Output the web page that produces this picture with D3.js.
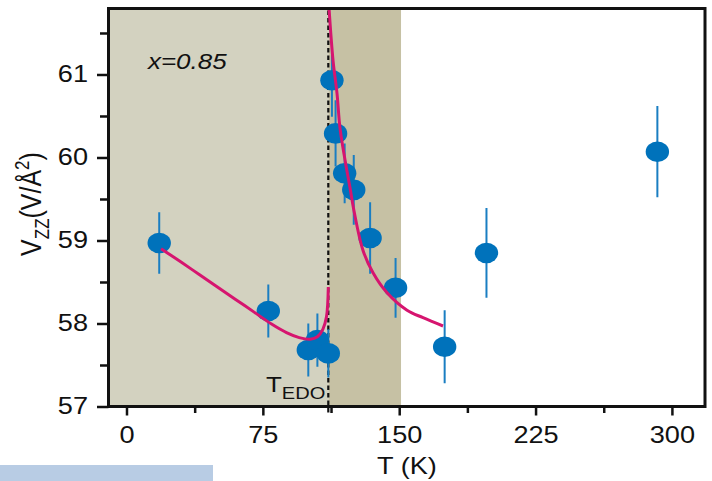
<!DOCTYPE html>
<html>
<head>
<meta charset="utf-8">
<script src="https://cdn.jsdelivr.net/npm/d3@7"></script>
<style>
  body { margin: 0; background: #fff; }
  text { font-family: "Liberation Sans", Arial, sans-serif; fill: #111; }
</style>
</head>
<body>
<svg width="712" height="481"></svg>
<script>
// measured points: temperature (K), Vzz (V/A^2), error half-width
var temps = [18, 78, 100, 105, 111, 113, 115, 120, 125, 134, 148, 175, 198, 292];
var vzz   = [58.97, 58.15, 57.68, 57.80, 57.64, 60.93, 60.29, 59.81, 59.61, 59.03, 58.43, 57.72, 58.85, 60.07];
var errs  = [0.37, 0.32, 0.32, 0.32, 0.29, 0.44, 0.40, 0.36, 0.42, 0.43, 0.36, 0.44, 0.54, 0.55];

// fit curve below T_EDO
var fitLowT = [19, 30, 40, 50, 60, 70, 80, 88, 95, 101, 105, 108, 110, 111];
var fitLowV = [58.90, 58.74, 58.59, 58.44, 58.29, 58.14, 57.99, 57.89, 57.83, 57.81, 57.84, 57.93, 58.08, 58.44];
// fit curve above T_EDO
var fitHighT = [111.4, 113.6, 115.8, 117.4, 120.2, 122.9, 125.1, 130.1, 135.6, 143.3, 154.3, 163.1, 174.1];
var fitHighV = [61.80, 61.17, 60.77, 60.36, 59.97, 59.64, 59.36, 58.88, 58.61, 58.37, 58.16, 58.07, 57.97];

var tEdo = 111, tShadeEnd = 151;
var xMajor = [0, 75, 150, 225, 300];
var xMinor = [37.5, 112.5, 187.5, 262.5];
var yMajor = [57, 58, 59, 60, 61];
var yMinor = [57.5, 58.5, 59.5, 60.5, 61.5];

var svg = d3.select("svg");
var pL = 108.5, pR = 705, pT = 8.5, pB = 406.5;
var sx = 1.18; // horizontal text stretch seen in the figure

var x = d3.scaleLinear().domain([-9.9, 318.2]).range([pL, pR]);
var y = d3.scaleLinear().domain([57, 61.795]).range([pB, pT]);

svg.append("rect").attr("x", 0).attr("y", 465).attr("width", 213).attr("height", 16)
    .attr("fill", "#b8cce4");

svg.append("defs").append("clipPath").attr("id", "plot")
  .append("rect").attr("x", pL).attr("y", pT).attr("width", pR - pL).attr("height", pB - pT);

// shaded regions
svg.append("rect").attr("x", pL).attr("y", pT)
    .attr("width", x(tEdo) - pL).attr("height", pB - pT).attr("fill", "#d3d2c0");
svg.append("rect").attr("x", x(tEdo)).attr("y", pT)
    .attr("width", x(tShadeEnd) - x(tEdo)).attr("height", pB - pT).attr("fill", "#c6c1a4");

// T_EDO dashed line
svg.append("line")
    .attr("x1", x(tEdo)).attr("x2", x(tEdo))
    .attr("y1", pT + 2).attr("y2", pB + 8)
    .attr("stroke", "#111").attr("stroke-width", 2.2)
    .attr("stroke-dasharray", "4.5,3");

var pts = temps.map(function(t, i) { return {t: t, v: vzz[i], e: errs[i]}; });

var g = svg.append("g").attr("clip-path", "url(#plot)");

g.selectAll(".err")
  .data(pts)
  .enter().append("line")
    .attr("class", "err")
    .attr("x1", function(d) { return x(d.t); })
    .attr("x2", function(d) { return x(d.t); })
    .attr("y1", function(d) { return y(d.v + d.e); })
    .attr("y2", function(d) { return y(d.v - d.e); })
    .attr("stroke", "#1a7ec2").attr("stroke-width", 2);

g.selectAll(".pt")
  .data(pts)
  .enter().append("ellipse")
    .attr("class", "pt")
    .attr("cx", function(d) { return x(d.t); })
    .attr("cy", function(d) { return y(d.v); })
    .attr("rx", 11.7).attr("ry", 10.3)
    .attr("fill", "#0072bb");

var line = d3.line()
    .x(function(d) { return x(d[0]); })
    .y(function(d) { return y(d[1]); })
    .curve(d3.curveCatmullRom.alpha(0.5));

[[fitLowT, fitLowV], [fitHighT, fitHighV]].forEach(function(c) {
  g.append("path")
    .datum(c[0].map(function(t, i) { return [t, c[1][i]]; }))
    .attr("d", line)
    .attr("fill", "none")
    .attr("stroke", "#d6156f")
    .attr("stroke-width", 3);
});

// frame
svg.append("rect").attr("x", pL).attr("y", pT)
    .attr("width", pR - pL).attr("height", pB - pT)
    .attr("fill", "none").attr("stroke", "#111").attr("stroke-width", 3);

// axes
function styleAxis(sel) {
  sel.select(".domain").remove();
  sel.selectAll("line").attr("stroke", "#111").attr("stroke-width", 2.5);
}

var yAx = svg.append("g").attr("transform", "translate(" + pL + ",0)")
    .call(d3.axisLeft(y).tickValues(yMajor).tickSize(11.5).tickPadding(9).tickFormat(d3.format("d")));
styleAxis(yAx);
yAx.selectAll("text")
    .attr("font-size", 23).attr("font-family", null)
    .attr("transform", "scale(" + sx + ",1)")
    .attr("x", -20.5 / sx);

var yMin = svg.append("g").attr("transform", "translate(" + pL + ",0)")
    .call(d3.axisLeft(y).tickValues(yMinor).tickSize(8.5).tickFormat(""));
styleAxis(yMin);

var xAx = svg.append("g").attr("transform", "translate(0," + pB + ")")
    .call(d3.axisBottom(x).tickValues(xMajor).tickSize(9).tickPadding(11).tickFormat(d3.format("d")));
styleAxis(xAx);
xAx.selectAll("text")
    .attr("font-size", 23).attr("font-family", null)
    .attr("transform", "scale(" + sx + ",1)");

var xMin = svg.append("g").attr("transform", "translate(0," + pB + ")")
    .call(d3.axisBottom(x).tickValues(xMinor).tickSize(6.5).tickFormat(""));
styleAxis(xMin);

// labels
svg.append("text")
    .attr("transform", "translate(407,474) scale(" + sx + ",1)")
    .attr("text-anchor", "middle").attr("font-size", 23)
    .text("T (K)");

var yl = svg.append("text")
    .attr("transform", "translate(41,204) scale(" + sx + ",1) rotate(-90)")
    .attr("text-anchor", "middle").attr("font-size", 25);
yl.append("tspan").text("V");
yl.append("tspan").attr("font-size", 17).attr("dy", 7).text("ZZ");
yl.append("tspan").attr("dy", -7).text("(V/Å");
yl.append("tspan").attr("font-size", 17).attr("dy", -10).text("2");
yl.append("tspan").attr("dy", 10).text(")");

svg.append("text")
    .attr("transform", "translate(148,69) scale(" + sx + ",1)")
    .attr("font-size", 22).attr("font-style", "italic")
    .text("x=0.85");

var te = svg.append("text")
    .attr("transform", "translate(266,392) scale(" + sx + ",1)")
    .attr("font-size", 22);
te.append("tspan").text("T");
te.append("tspan").attr("font-size", 17).attr("dy", 7).text("EDO");
</script>
</body>
</html>
